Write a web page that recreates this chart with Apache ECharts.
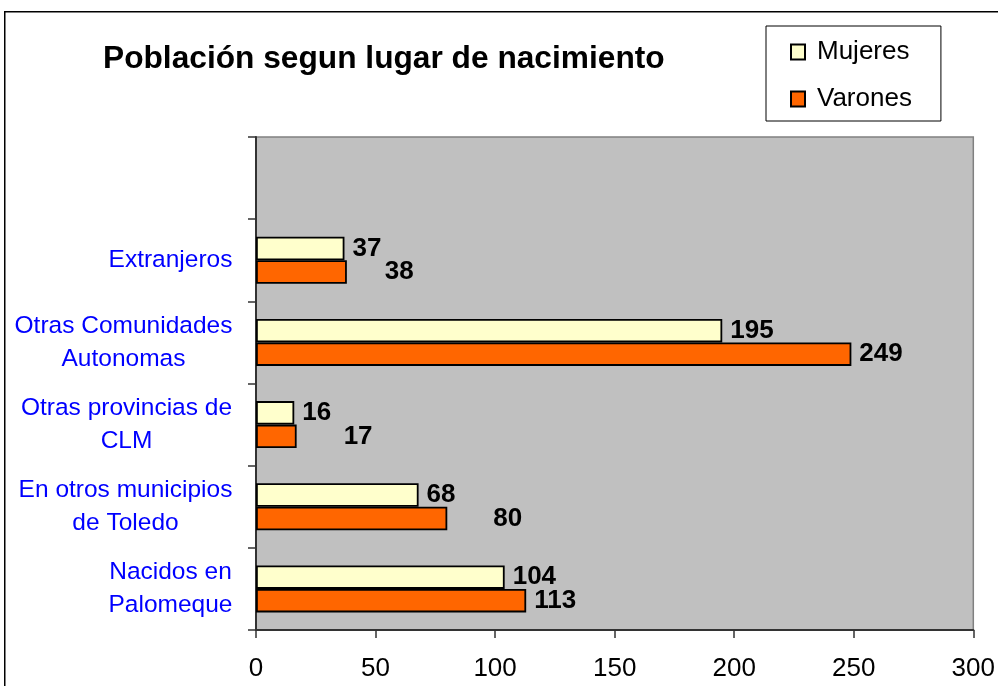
<!DOCTYPE html>
<html>
<head>
<meta charset="utf-8">
<script src="https://cdn.jsdelivr.net/npm/echarts@6/dist/echarts.min.js"></script>
<style>
html,body{margin:0;padding:0;background:#fff;}
#chart{width:998px;height:686px;}
</style>
</head>
<body>
<div id="chart"></div>
<script>
const titleText = 'Población segun lugar de nacimiento';
const categories = ['Nacidos en\nPalomeque', 'En otros municipios\nde Toledo', 'Otras provincias de\nCLM', 'Otras Comunidades\nAutonomas', 'Extranjeros', ''];
const seriesNames = ['Mujeres', 'Varones'];
const mujeres = [104, 68, 16, 195, 37, null];
const varones = [113, 80, 17, 249, 38, null];
const xTicks = [0, 50, 100, 150, 200, 250, 300];

// label style tweaks (extra horizontal shift of some value labels, as in the original)
const varonesLabelShift = [0, 38, 39, 0, 30, 0];

const FONT = 'Liberation Sans, Arial, sans-serif';
const catFontSize = 24.5;

// measure block widths so that multi-line category labels are centred within a right-aligned block
const ctx = document.createElement('canvas').getContext('2d');
ctx.font = catFontSize + 'px "Liberation Sans", Arial, sans-serif';
const rich = {};
categories.forEach((c, i) => {
  const w = Math.max(1, ...c.split('\n').map(s => ctx.measureText(s).width));
  rich['l' + i] = { width: Math.ceil(w) + 1, align: 'center', fontSize: catFontSize, color: '#0000FF', lineHeight: 33, fontFamily: FONT };
});

const chart = echarts.init(document.getElementById('chart'));
const labelBase = {
  show: true, position: 'right', distance: 8,
  color: '#000', fontSize: 26, fontWeight: 'bold', fontFamily: FONT
};
const option = {
  animation: false,
  textStyle: { fontFamily: FONT },
  graphic: [{
    type: 'rect', left: 4, top: 11, z: -10,
    shape: { width: 1100, height: 800 },
    style: { fill: '#fff', stroke: '#000', lineWidth: 1.5 }
  }],
  title: {
    text: titleText, left: 98, top: 38,
    textStyle: { fontSize: 31.7, fontWeight: 'bold', color: '#000', fontFamily: FONT }
  },
  legend: {
    data: seriesNames, orient: 'vertical', left: 766, top: 26,
    backgroundColor: '#fff', borderColor: '#000', borderWidth: 1,
    padding: [13, 29, 9, 24], itemGap: 21, itemWidth: 14, itemHeight: 15,
    icon: 'rect',
    itemStyle: { borderColor: '#000', borderWidth: 2 },
    textStyle: { fontSize: 26, color: '#000', padding: [0, 0, 0, 7] }
  },
  grid: {
    left: 256, top: 137, width: 718, height: 493,
    show: true, backgroundColor: '#C0C0C0', borderColor: '#808080', borderWidth: 1.5
  },
  xAxis: {
    type: 'value', min: xTicks[0], max: xTicks[xTicks.length - 1], interval: 50,
    axisLine: { show: true, lineStyle: { color: '#333', width: 2 } },
    axisTick: { show: true, length: 8, lineStyle: { color: '#333', width: 1.5 } },
    splitLine: { show: false },
    axisLabel: { fontSize: 26, color: '#000', margin: 26 }
  },
  yAxis: {
    type: 'category', data: categories,
    axisLine: { show: true, lineStyle: { color: '#333', width: 2 } },
    axisTick: { show: true, length: 8, lineStyle: { color: '#333', width: 1.5 } },
    axisLabel: {
      fontSize: catFontSize, color: '#0000FF', margin: 23, align: 'right',
      formatter: (value, index) => value ? value.split('\n').map(s => '{l' + index + '|' + s + '}').join('\n') : '',
      rich: rich
    }
  },
  series: [
    {
      name: 'Mujeres', type: 'bar', data: mujeres, barWidth: 23.5, barGap: '0%',
      itemStyle: { color: '#FFFFCC', borderColor: '#000', borderWidth: 1.8 },
      label: labelBase
    },
    {
      name: 'Varones', type: 'bar',
      data: varones.map((v, i) => ({ value: v, label: { offset: [varonesLabelShift[i], 0] } })),
      barWidth: 23.5, barGap: '0%',
      itemStyle: { color: '#FF6600', borderColor: '#000', borderWidth: 1.8 },
      label: labelBase
    }
  ]
};
chart.setOption(option);
</script>
</body>
</html>
